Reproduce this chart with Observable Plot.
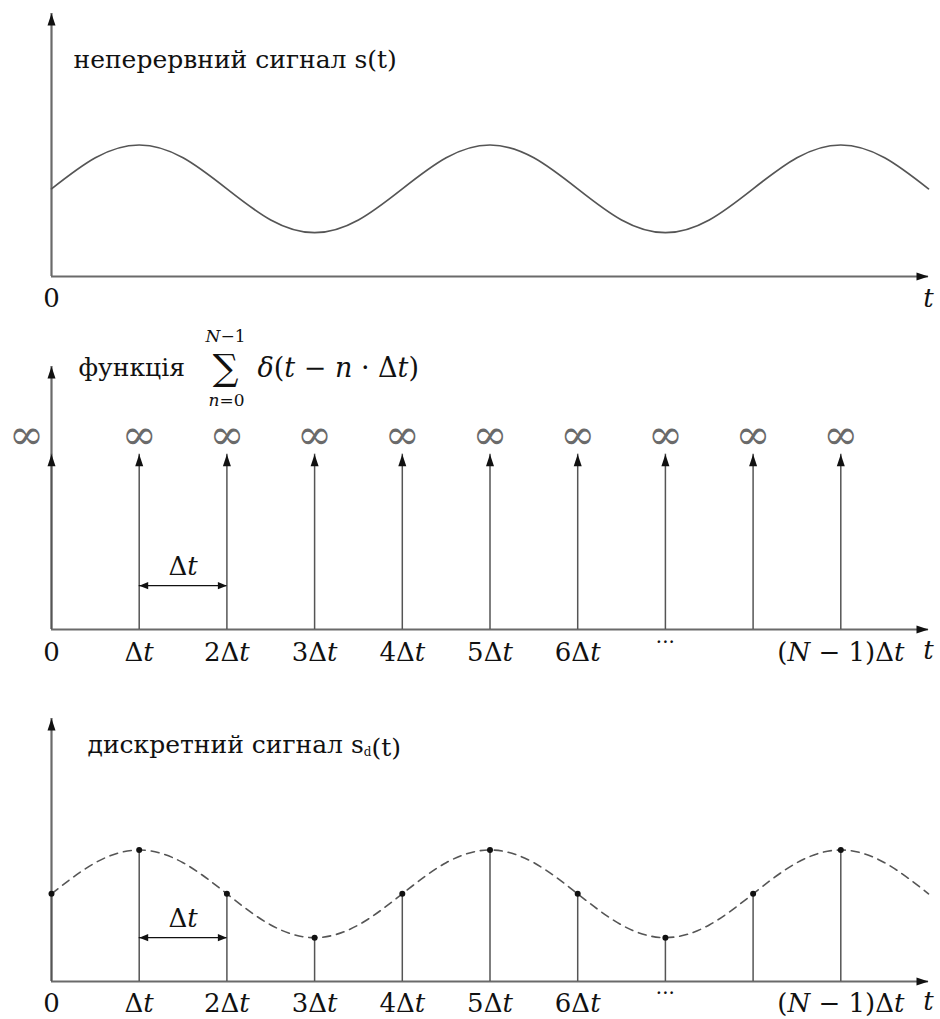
<!DOCTYPE html>
<html>
<head>
<meta charset="utf-8">
<script src="https://cdn.jsdelivr.net/npm/d3@7"></script>
<script src="https://cdn.jsdelivr.net/npm/@observablehq/plot@0.6"></script>
<style>
  html, body { margin: 0; padding: 0; background: #fff; overflow: hidden; }
  #chart svg { display: block; }
  #chart svg text { font-family: "DejaVu Serif", "Liberation Serif", serif; }
</style>
</head>
<body>
<div id="chart"></div>
<script>
// Time is measured in sampling steps Δt; the axes run to t = 10Δt and s = 6.
const tEnd = 10;
const yEnd = 6;

// Continuous signal s(t), read every half step.
const curveT = [0, 0.5, 1, 1.5, 2, 2.5, 3, 3.5, 4, 4.5, 5, 5.5, 6, 6.5, 7, 7.5, 8, 8.5, 9, 9.5, 10];
const curveS = [2, 2.71, 3, 2.71, 2, 1.29, 1, 1.29, 2, 2.71, 3, 2.71, 2, 1.29, 1, 1.29, 2, 2.71, 3, 2.71, 2];

// Samples s_d(nΔt), n = 0 … N−1 (N = 10).
const sampleT = [0, 1, 2, 3, 4, 5, 6, 7, 8, 9];
const sampleS = [2, 3, 2, 1, 2, 3, 2, 1, 2, 3];

// Dirac comb: impulses at nΔt, drawn as arrows of symbolic height, marked ∞.
const impulseT = [0, 1, 2, 3, 4, 5, 6, 7, 8, 9];
const impulseTop = 4;
const infinityLevel = 4.43;

// Tick labels under the time axis.
const tickT = [0, 1, 2, 3, 4, 5, 6, 9];
const tickLabels = ["0", "Δt", "2Δt", "3Δt", "4Δt", "5Δt", "6Δt", "(N − 1)Δt"];
const ellipsisT = [7];
const axisName = "t";

// The Δt bracket between the first two samples.
const stepFrom = 1, stepTo = 2, stepLevel = 1;

// Panel titles.
const title1 = "неперервний сигнал s(t)";
const title2 = "функція";
const sumUpper = "N−1";
const sumLower = "n=0";
const sumBody = "δ(t − n · Δt)";
const title3 = "дискретний сигнал s_d(t)";

const INK = "#111";
const AXIS = "#6a6a6a";
const LINE = "#555";
const FONT = "'DejaVu Serif', 'Liberation Serif', serif";
const txt = {fontFamily: FONT, fill: INK};

// Filled arrowhead with its tip at the anchor point, pointing up before rotation.
const head = (len, half) => ({
  draw(ctx) {
    ctx.moveTo(0, 0);
    ctx.lineTo(half, len);
    ctx.lineTo(-half, len);
    ctx.closePath();
  }
});
const axisHead = head(12, 4);
const smallHead = head(9, 3.6);

function axes() {
  return [
    Plot.ruleY([0], {x1: 0, x2: tEnd, stroke: AXIS, strokeWidth: 2.2}),
    Plot.ruleX([0], {y1: 0, y2: yEnd, stroke: AXIS, strokeWidth: 2.2}),
    Plot.dot([tEnd], {x: d => d, y: 0, symbol: axisHead, rotate: 90, r: 1, fill: INK, stroke: "none"}),
    Plot.dot([yEnd], {x: 0, y: d => d, symbol: axisHead, r: 1, fill: INK, stroke: "none"})
  ];
}

function stepBracket(labelDy) {
  return [
    Plot.ruleY([stepLevel], {x1: stepFrom, x2: stepTo, stroke: INK, strokeWidth: 1.3}),
    Plot.dot([stepFrom], {x: d => d, y: stepLevel, symbol: smallHead, rotate: -90, r: 1, fill: INK, stroke: "none"}),
    Plot.dot([stepTo], {x: d => d, y: stepLevel, symbol: smallHead, rotate: 90, r: 1, fill: INK, stroke: "none"}),
    Plot.text(["Δt"], {x: (stepFrom + stepTo) / 2, y: stepLevel, text: d => d, dy: labelDy,
      lineAnchor: "middle", fontSize: 26, ...txt})
  ];
}

function tickMarks(dy) {
  return [
    Plot.text(tickT, {x: d => d, y: 0, text: (d, i) => tickLabels[i], dy, lineAnchor: "middle", fontSize: 26, ...txt}),
    Plot.text(ellipsisT, {x: d => d, y: 0, text: () => "···", dy: dy - 10, lineAnchor: "middle", fontSize: 20, ...txt}),
    Plot.text([tEnd], {x: d => d, y: 0, text: () => axisName, dy: dy - 2, lineAnchor: "middle", fontSize: 26, ...txt})
  ];
}

function title(text, dx, dy) {
  return Plot.text([text], {frameAnchor: "top-left", text: d => d, dx, dy, textAnchor: "start",
    lineAnchor: "bottom", fontSize: 25, ...txt});
}

function panel(height, marginTop, marginBottom, marks) {
  return Plot.plot({
    width: 940,
    height,
    marginLeft: 51,
    marginRight: 12,
    marginTop,
    marginBottom,
    x: {domain: [0, tEnd], axis: null},
    y: {domain: [0, yEnd], axis: null},
    style: {background: "#fff", overflow: "visible"},
    marks
  });
}

// Panel 1: the continuous signal.
const curve = curveT.map((t, i) => ({t, s: curveS[i]}));
const p1 = panel(310, 13, 34, [
  ...axes(),
  Plot.line(curve, {x: "t", y: "s", curve: "natural", stroke: LINE, strokeWidth: 1.7}),
  Plot.text([0], {x: d => d, y: 0, text: () => "0", dy: 22, lineAnchor: "middle", fontSize: 26, ...txt}),
  Plot.text([tEnd], {x: d => d, y: 0, text: () => axisName, dy: 22, lineAnchor: "middle", fontSize: 26, ...txt}),
  title(title1, 22, 54)
]);

// Panel 2: the sampling function, a comb of delta impulses.
const infStyle = {text: () => "∞", lineAnchor: "middle", fontSize: 42, fontFamily: FONT, fill: "#6a6a6a"};
const p2 = panel(374, 56, 55, [
  ...axes(),
  Plot.ruleX(impulseT, {x: d => d, y1: 0, y2: impulseTop, stroke: LINE, strokeWidth: 1.5}),
  Plot.dot(impulseT, {x: d => d, y: impulseTop, symbol: axisHead, r: 1, fill: INK, stroke: "none"}),
  Plot.text(impulseT.slice(1), {x: d => d, y: infinityLevel, ...infStyle}),
  Plot.text(impulseT.slice(0, 1), {x: d => d, y: infinityLevel, dx: -25, ...infStyle}),
  ...stepBracket(-19),
  ...tickMarks(23),
  title(title2, 27, 9),
  Plot.text(["∑"], {frameAnchor: "top-left", text: d => d, dx: 174, dy: 13, textAnchor: "middle", lineAnchor: "bottom", fontSize: 36, ...txt}),
  Plot.text([sumUpper], {frameAnchor: "top-left", text: d => d, dx: 174, dy: -25, textAnchor: "middle", lineAnchor: "bottom", fontSize: 17, ...txt}),
  Plot.text([sumLower], {frameAnchor: "top-left", text: d => d, dx: 175, dy: 39, textAnchor: "middle", lineAnchor: "bottom", fontSize: 17, ...txt}),
  Plot.text([sumBody], {frameAnchor: "top-left", text: d => d, dx: 206, dy: 10, textAnchor: "start", lineAnchor: "bottom", fontSize: 27, ...txt})
]);

// Panel 3: the discrete signal, samples of s(t) at every Δt.
const samples = sampleT.map((t, i) => ({t, s: sampleS[i]}));
const p3 = panel(335, 34, 38, [
  ...axes(),
  Plot.line(curve, {x: "t", y: "s", curve: "natural", stroke: LINE, strokeWidth: 1.6, strokeDasharray: "8,6"}),
  Plot.ruleX(samples, {x: "t", y1: 0, y2: "s", stroke: LINE, strokeWidth: 1.5}),
  Plot.dot(samples, {x: "t", y: "s", r: 3, fill: INK, stroke: "none"}),
  ...stepBracket(-19),
  ...tickMarks(22),
  title(title3, 36, 34)
]);

// Set math in italics (Latin letters and δ) and render "_x" as a subscript.
const NS = "http://www.w3.org/2000/svg";
function typeset(svg) {
  svg.querySelectorAll("text").forEach(el => {
    const s = el.textContent;
    if (!s) return;
    const cyrillic = /[\u0400-\u04FF]/.test(s);
    const runs = s.match(/_[^_(]|[A-Za-zδ]+|[^A-Za-zδ_]+/g) || [];
    el.textContent = "";
    for (const run of runs) {
      const ts = document.createElementNS(NS, "tspan");
      if (run.startsWith("_")) {
        ts.textContent = run.slice(1);
        ts.setAttribute("font-size", "12");
        ts.setAttribute("dy", "3");
        el.appendChild(ts);
        const back = document.createElementNS(NS, "tspan");
        back.setAttribute("dy", "-3");
        el.appendChild(back);
        continue;
      }
      if (!cyrillic && /[A-Za-zδ]/.test(run)) ts.setAttribute("font-style", "italic");
      ts.textContent = run;
      el.appendChild(ts);
    }
  });
}

const root = document.getElementById("chart");
for (const p of [p1, p2, p3]) {
  typeset(p);
  root.appendChild(p);
}
</script>
</body>
</html>
